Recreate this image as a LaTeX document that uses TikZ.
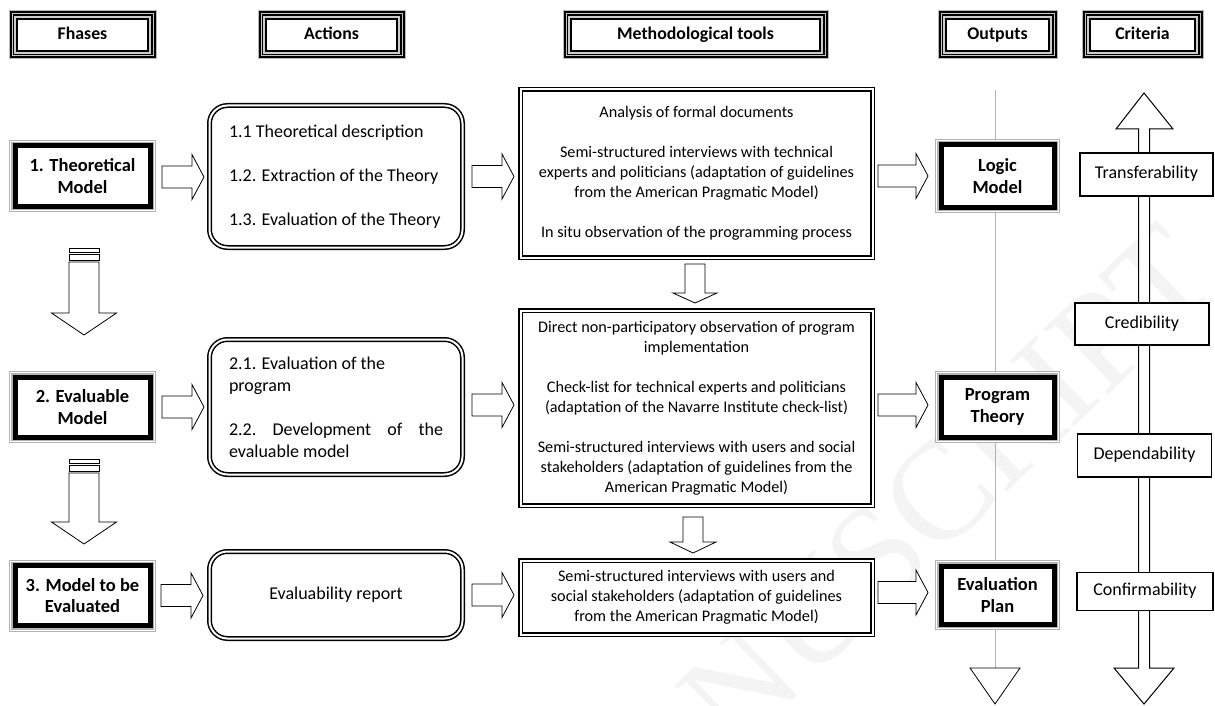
\documentclass[tikz,border=0pt]{standalone}
\usepackage{fontspec}
\setmainfont{Carlito}
\newfontfamily\wmfont{Liberation Serif}
\usetikzlibrary{calc}

\tikzset{
 hdrbox/.style={draw=black, line width=2pt, fill=white, font=\fontsize{17.8}{20}\selectfont\bfseries,
   text height=12.5pt, text depth=3.5pt,
   preaction={draw=gray!55, line width=17pt},
   preaction={draw=black, line width=15pt},
   preaction={draw=gray!45, line width=11pt},
   preaction={draw=black, line width=9pt},
   preaction={draw=gray!40, line width=6pt}},
 phasebox/.style={draw=black, line width=5pt, fill=white, font=\fontsize{18.5}{21.5}\selectfont\bfseries, align=center,
   preaction={draw=gray!60, line width=12pt},
   preaction={draw=white, line width=10pt},
   preaction={draw=gray!60, line width=8pt}},
 actbox/.style={draw=black, double=white, double distance=2pt, line width=1.5pt, rounded corners=18pt, fill=white, font=\fontsize{18}{22}\selectfont},
 methbox/.style={draw=black, double=white, double distance=2pt, line width=1.3pt, fill=white, font=\fontsize{16.2}{20}\selectfont, align=center},
 critbox/.style={draw=black, line width=1.5pt, fill=white, font=\fontsize{18}{20}\selectfont, text height=12.5pt, text depth=4pt},
 blk/.style={draw=black, line width=0.8pt, fill=white, line join=miter},
 wmark/.style={font=\wmfont\fontsize{140}{140}\selectfont, text=gray!9, rotate=44, anchor=base west},
}

% right block arrow: start point, tip point
\newcommand{\rarrow}[2]{\draw[blk] let \p1=(#1), \p2=(#2) in
  (\x1,\y1+11pt) -- (\x2-12pt,\y1+11pt) -- (\x2-12pt,\y1+22.5pt) -- (\x2,\y1)
  -- (\x2-12pt,\y1-22.5pt) -- (\x2-12pt,\y1-11pt) -- (\x1,\y1-11pt) -- cycle;}
% down block arrow: top, tip, shaft half, head half, head length
\newcommand{\darrow}[5]{\draw[blk] let \p1=(#1), \p2=(#2) in
  (\x1-#3,\y1) -- (\x1-#3,\y2+#5) -- (\x1-#4,\y2+#5) -- (\x1,\y2)
  -- (\x1+#4,\y2+#5) -- (\x1+#3,\y2+#5) -- (\x1+#3,\y1) -- cycle;}
% striped down block arrow: top of stripes, tip
\newcommand{\sdarrow}[2]{%
  \draw[blk] let \p1=(#1) in (\x1-15pt,\y1) rectangle (\x1+15pt,\y1-4pt);
  \draw[blk] let \p1=(#1) in (\x1-15pt,\y1-6pt) rectangle (\x1+15pt,\y1-12pt);
  \draw[blk] let \p1=(#1), \p2=(#2) in
  (\x1-15pt,\y1-14pt) -- (\x1-15pt,\y2+22pt) -- (\x1-32.5pt,\y2+22pt) -- (\x1,\y2)
  -- (\x1+32.5pt,\y2+22pt) -- (\x1+15pt,\y2+22pt) -- (\x1+15pt,\y1-14pt) -- cycle;}

\begin{document}
\begin{tikzpicture}[x=1pt,y=-1pt, every node/.style={outer sep=0pt, inner sep=0pt}]
\useasboundingbox (0,0) rectangle (1215,706);

% watermark
\begin{scope}
\clip (0,0) rectangle (1215,706);
\node[wmark] (wm) at (735,755) {NUSCRIPT};
\end{scope}

% outputs axis
\coordinate (otop) at (995,90);
\coordinate (obot) at (995,704);
\draw[gray!60, line width=1pt] (otop) -- ([yshift=36pt]obot);
\draw[blk] ([xshift=-25pt,yshift=36pt]obot) -- (obot) -- ([xshift=25pt,yshift=36pt]obot) -- cycle;

% criteria double arrow
\coordinate (ctop) at (1144,93);
\coordinate (cbot) at (1144,704);
\draw[blk, line width=1pt] let \p1=(ctop), \p2=(cbot) in
  (\x1,\y1) -- (\x1+29pt,\y1-36pt) -- (\x1+5.5pt,\y1-36pt) -- (\x2+5.5pt,\y2+36pt)
  -- (\x2+30pt,\y2+36pt) -- (\x2,\y2) -- (\x2-30pt,\y2+36pt) -- (\x2-5.5pt,\y2+36pt)
  -- (\x1-5.5pt,\y1-36pt) -- (\x1-28pt,\y1-36pt) -- cycle;

% headers
\node[hdrbox, minimum width=131pt, minimum height=32pt] (hF) at (82.5,35) {Fhases};
\node[hdrbox, minimum width=131pt, minimum height=32pt] (hA) at (331.5,35) {Actions};
\node[hdrbox, minimum width=249pt, minimum height=32pt] (hM) at (695.5,35) {Methodological tools};
\node[hdrbox, minimum width=103pt, minimum height=32pt] (hO) at (997.5,35) {Outputs};
\node[hdrbox, minimum width=105pt, minimum height=32pt] (hC) at (1142.5,35) {Criteria};

% phases
\node[phasebox, minimum width=135pt, minimum height=60pt] (p1) at (82.5,176) {1. Theoretical\\Model};
\node[phasebox, minimum width=135pt, minimum height=60pt] (p2) at (82.5,407) {2. Evaluable\\Model};
\node[phasebox, minimum width=135pt, minimum height=60pt] (p3) at (82.5,595.5) {3. Model to be\\Evaluated};

% actions
\node[actbox, minimum width=253pt, minimum height=142pt] (a1) at (336,176.5)
  {\parbox{214pt}{\raggedright 1.1 Theoretical description\\[22pt]1.2. Extraction of the Theory\\[22pt]1.3. Evaluation of the Theory}};
\node[actbox, minimum width=253pt, minimum height=135pt] (a2) at (336,407)
  {\parbox{214pt}{\raggedright 2.1. Evaluation of the\\program\\[22pt]2.2.\hfill Development\hfill of\hfill the\\evaluable model}};
\node[actbox, minimum width=253pt, minimum height=87pt] (a3) at (336,595) {Evaluability report};

% methodological tools
\node[methbox, minimum width=352pt, minimum height=168pt] (m1) at (696.5,173.5)
  {Analysis of formal documents\\[20pt]Semi-structured interviews with technical\\experts and politicians (adaptation of guidelines\\from the American Pragmatic Model)\\[20pt]In situ observation of the programming process};
\node[methbox, minimum width=352pt, minimum height=195pt] (m2) at (696.5,408)
  {Direct non-participatory observation of program\\implementation\\[20pt]Check-list for technical experts and politicians\\(adaptation of the Navarre Institute check-list)\\[20pt]Semi-structured interviews with users and social\\stakeholders (adaptation of guidelines from the\\American Pragmatic Model)};
\node[methbox, minimum width=352pt, minimum height=74pt] (m3) at (696.5,597.5)
  {Semi-structured interviews with users and\\social stakeholders (adaptation of guidelines\\from the American Pragmatic Model)};

% outputs
\node[phasebox, minimum width=113pt, minimum height=62pt] (o1) at (997.5,176) {Logic\\Model};
\node[phasebox, minimum width=113pt, minimum height=60pt] (o2) at (997.5,407) {Program\\Theory};
\node[phasebox, minimum width=113pt, minimum height=58pt] (o3) at (997.5,595) {Evaluation\\Plan};

% criteria
\node[critbox, minimum width=133pt, minimum height=43pt] (c1) at (1146.5,174.5) {Transferability};
\node[critbox, minimum width=134pt, minimum height=42pt] (c2) at (1142,324) {Credibility};
\node[critbox, minimum width=134pt, minimum height=43pt] (c3) at (1144.5,455.5) {Dependability};
\node[critbox, minimum width=136pt, minimum height=38pt] (c4) at (1145,591.5) {Confirmability};

% right arrows
\rarrow{[xshift=12pt,yshift=-1pt]p1.east}{[xshift=-5.5pt]a1.west}
\rarrow{[xshift=12pt]p2.east}{[xshift=-5.5pt]a2.west}
\rarrow{[xshift=11pt]p3.east}{[xshift=-6.5pt]a3.west}
\rarrow{[xshift=9.5pt]a1.east}{[xshift=-6.5pt]m1.west}
\rarrow{[xshift=9.5pt,yshift=2pt]a2.east}{[xshift=-6.5pt]m2.west}
\rarrow{[xshift=9.5pt]a3.east}{[xshift=-6.5pt]m3.west}
\rarrow{[xshift=5.5pt,yshift=-2.5pt]m1.east}{[xshift=-13pt]o1.west}
\rarrow{[xshift=5.5pt,yshift=3pt]m2.east}{[xshift=-13pt]o2.west}
\rarrow{[xshift=5.5pt,yshift=5pt]m3.east}{[xshift=-13pt]o3.west}

% down arrows
\sdarrow{[xshift=1.5pt,yshift=-42pt]p1.south}{[xshift=1.5pt,yshift=42pt]p2.north}
\sdarrow{[xshift=1.5pt,yshift=-22pt]p2.south}{[xshift=1.5pt,yshift=21.5pt]p3.north}
\darrow{[xshift=-1.5pt,yshift=-6.5pt]m1.south}{[xshift=-1.5pt,yshift=7.5pt]m2.north}{10pt}{22pt}{10pt}
\darrow{[xshift=-3.5pt,yshift=-11.5pt]m2.south}{[xshift=-3.5pt,yshift=7.5pt]m3.north}{10pt}{23pt}{11pt}
\end{tikzpicture}
\end{document}
